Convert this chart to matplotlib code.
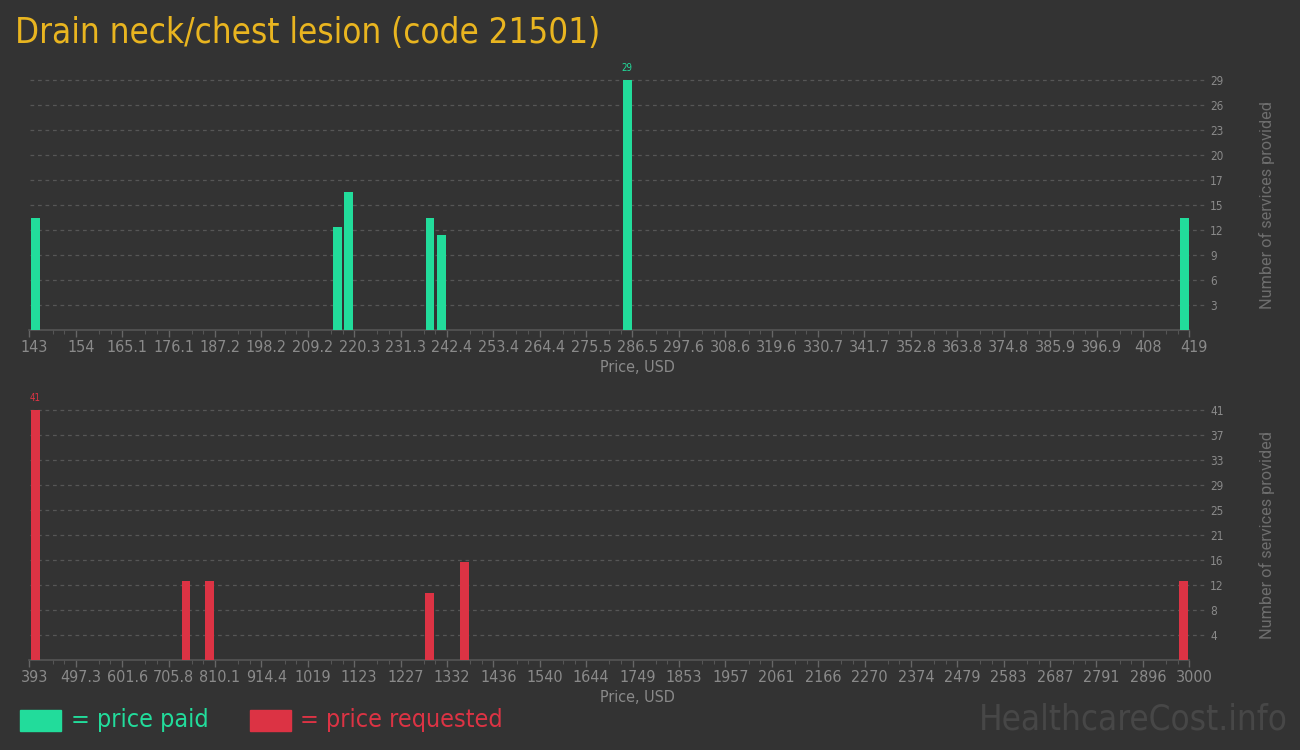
#!/usr/bin/env python3
"""Price histogram for code 21501: paid vs requested, two stacked panels."""
import numpy as np
import matplotlib
matplotlib.use('Agg')
import matplotlib.pyplot as plt
from matplotlib.transforms import ScaledTranslation

# ---- data ----
title = 'Drain neck/chest lesion (code 21501)'

paid_prices = [144.5, 216.3, 219.0, 238.3, 241.1, 285.3, 417.8]
paid_counts = [13, 12, 16, 13, 11, 29, 13]
paid_range = (143, 419)

req_prices = [407, 745, 798, 1292, 1371, 2987]
req_counts = [41, 13, 13, 11, 16, 13]
req_range = (393, 3000)

BG = '#333333'
GREEN = '#22dc9b'
RED = '#dc3344'
GOLD = '#e9b520'
TICK = '#8a8a8a'
GRID = '#565656'

plt.rcParams['font.family'] = ['DejaVu Sans']
plt.rcParams['font.stretch'] = 'condensed'


def fmt_price(v):
    if v >= 1000:
        return str(int(round(v)))
    s = f'{v:.1f}'
    return s[:-2] if s.endswith('.0') else s


def draw_panel(fig, ax, prices, counts, xr, color):
    lo, hi = xr
    ax.set_facecolor(BG)
    width = (hi - lo) / 1160 * 8.5
    ax.bar(prices, counts, width=width, color=color, zorder=3)
    ymax = max(counts)
    ax.set_xlim(lo, hi)
    ax.set_ylim(0, ymax)

    # dashed gridlines at ymax/10 steps, labels rounded half-up
    yt = np.arange(1, 11) * ymax / 10
    for y in yt:
        ax.axhline(y, xmin=0.001, xmax=1.014, color=GRID, lw=0.9,
                   ls=(0, (3, 3)), zorder=1, clip_on=False)
    ax.yaxis.tick_right()
    ax.set_yticks(yt)
    ax.set_yticklabels([str(int(v + 0.5)) for v in yt])
    ax.tick_params(axis='y', length=0, pad=15, labelsize=8.5, labelcolor=TICK)

    xt = np.linspace(lo, hi, 26)
    ax.set_xticks(xt)
    ax.set_xticklabels([fmt_price(v) for v in xt])
    step = (hi - lo) / 25
    minors = np.concatenate([xt[:-1] + step * 0.5, xt[:-1] + step * 0.75])
    ax.set_xticks(minors, minor=True)
    ax.tick_params(axis='x', which='major', length=5, width=1, color='#666666',
                   labelsize=11.5, labelcolor=TICK, pad=2)
    ax.tick_params(axis='x', which='minor', length=3, width=0.8, color='#555555')
    # labels sit a few pixels right of their tick in the original
    shift = ScaledTranslation(5 / 100, 0, fig.dpi_scale_trans)
    for lab in ax.get_xticklabels():
        lab.set_transform(lab.get_transform() + shift)

    for side in ('top', 'right', 'left'):
        ax.spines[side].set_visible(False)
    ax.spines['bottom'].set_color('#555555')
    ax.spines['bottom'].set_linewidth(1.2)

    ax.set_xlabel('Price, USD', color='#8a8a8a', fontsize=11.5, labelpad=1)
    ax.xaxis.set_label_coords((637 - 29.3) / 1160, -0.12)
    ax.text(1.067, 0.5, 'Number of services provided', transform=ax.transAxes,
            rotation=90, ha='center', va='center', color='#6e6e6e',
            fontsize=11.7, family=['Roboto', 'DejaVu Sans'], stretch='normal')

    # value label over the tallest bar
    i = int(np.argmax(counts))
    ax.annotate(str(counts[i]), (prices[i], counts[i]), xytext=(0, 5),
                textcoords='offset points', ha='center', va='bottom',
                color=color, fontsize=7, clip_on=False)


fig = plt.figure(figsize=(13, 7.5), dpi=100, facecolor=BG)

ax_top = fig.add_axes([29.3 / 1300, 1 - 330 / 750, 1160 / 1300, 250 / 750])
ax_bot = fig.add_axes([29.3 / 1300, 1 - 660 / 750, 1160 / 1300, 250 / 750])

draw_panel(fig, ax_top, paid_prices, paid_counts, paid_range, GREEN)
draw_panel(fig, ax_bot, req_prices, req_counts, req_range, RED)

fig.text(15 / 1300, 1 - 33 / 750, title, color=GOLD, fontsize=25,
         ha='left', va='center')

# legend
fig.patches.append(plt.Rectangle((20 / 1300, 1 - 731 / 750), 41 / 1300, 21 / 750,
                                 transform=fig.transFigure, color=GREEN))
fig.text(71 / 1300, 1 - 720 / 750, '= price paid', color=GREEN, fontsize=18,
         ha='left', va='center')
fig.patches.append(plt.Rectangle((250 / 1300, 1 - 731 / 750), 41 / 1300, 21 / 750,
                                 transform=fig.transFigure, color=RED))
fig.text(300 / 1300, 1 - 720 / 750, '= price requested', color=RED, fontsize=18,
         ha='left', va='center')

fig.text(1288 / 1300, 1 - 720 / 750, 'HealthcareCost.info', color='#474747',
         fontsize=25, ha='right', va='center')

fig.savefig('out.png', dpi=100, facecolor=BG)
